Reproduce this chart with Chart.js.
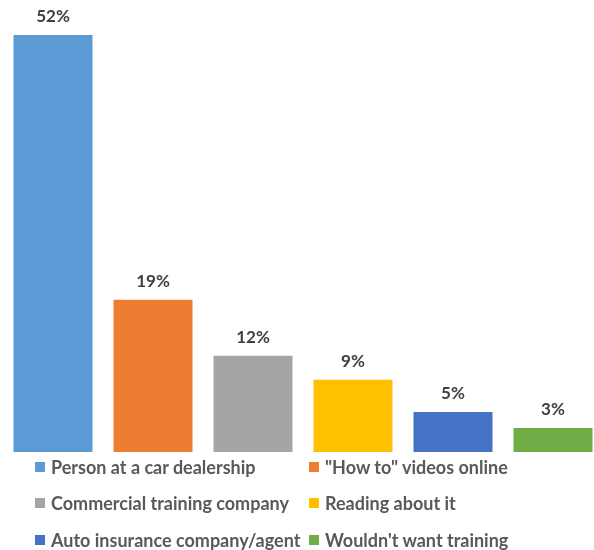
<!DOCTYPE html>
<html>
<head>
<meta charset="utf-8">
<script src="https://cdn.jsdelivr.net/npm/chart.js@4"></script>
<style>
  html, body { margin: 0; padding: 0; background: #fff; overflow: hidden; }
  #wrap { position: relative; width: 603px; height: 550px; }
  #legend { position: absolute; left: 0; top: 0; width: 594px; height: 550px; pointer-events: none;
    font-family: Lato, "Open Sans", sans-serif; font-weight: bold; font-size: 18px; line-height: 22px; color: #595959; }
  .item { position: absolute; display: flex; align-items: center; white-space: nowrap; }
  .box { width: 10px; height: 10px; margin-right: 6px; }
</style>
</head>
<body>
<div id="wrap">
  <canvas id="chart" width="603" height="550"></canvas>
  <div id="legend"></div>
</div>
<script>
var categories = [
  "Person at a car dealership",
  "\"How to\" videos online",
  "Commercial training company",
  "Reading about it",
  "Auto insurance company/agent",
  "Wouldn't want training"
];
var values = [52, 19, 12, 9, 5, 3];
var colors = ["#5B9BD5", "#ED7D31", "#A5A5A5", "#FFC000", "#4472C4", "#70AD47"];

// value labels above each bar
var barLabels = {
  id: "barLabels",
  afterDatasetsDraw: function (chart) {
    var ctx = chart.ctx;
    var meta = chart.getDatasetMeta(0);
    ctx.save();
    ctx.font = "bold 17px Lato, 'Open Sans', sans-serif";
    ctx.fillStyle = "#404040";
    ctx.textAlign = "center";
    ctx.textBaseline = "bottom";
    meta.data.forEach(function (bar, i) {
      ctx.fillText(values[i] + "%", bar.x, bar.y - 10);
    });
    ctx.restore();
  }
};

var chart = new Chart(document.getElementById("chart"), {
  type: "bar",
  data: {
    labels: categories,
    datasets: [
      {
        data: values,
        backgroundColor: colors,
        barPercentage: 0.79,
        categoryPercentage: 1,
      },
    ],
  },
  options: {
    responsive: false,
    animation: false,
    layout: { padding: { left: 3, right: 0, top: 35, bottom: 98 } },
    scales: {
      x: { display: false },
      y: { display: false, min: 0, max: 52 },
    },
    plugins: {
      legend: { display: false },
      tooltip: { enabled: false },
    },
  },
  plugins: [barLabels],
});

// two-column legend underneath
var legend = document.getElementById("legend");
var colX = [35, 309];
var rowY = [456, 492, 529];
categories.forEach(function (name, i) {
  var item = document.createElement("div");
  item.className = "item";
  item.style.left = colX[i % 2] + "px";
  item.style.top = rowY[Math.floor(i / 2)] + "px";
  item.innerHTML = '<span class="box" style="background:' + colors[i] + '"></span>';
  item.appendChild(document.createTextNode(name));
  legend.appendChild(item);
});
</script>
</body>
</html>
